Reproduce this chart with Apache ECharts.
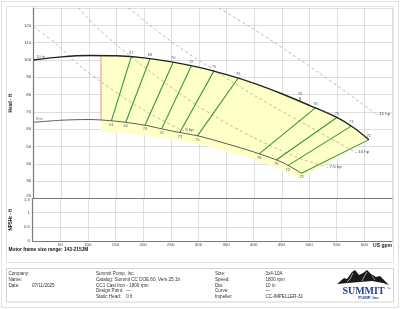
<!DOCTYPE html>
<html><head><meta charset="utf-8">
<script src="https://cdn.jsdelivr.net/npm/echarts@6/dist/echarts.min.js"></script>
<style>html,body{margin:0;padding:0;background:#fff}#c{width:400px;height:309px}</style>
</head><body><div id="c"></div>
<script>
// ---- data ----
const head10 = [[0,100],[50,101.8],[100,102.6],[150,102.4],[200,101.2],[250,98.9],[300,95.7],[350,91.5],[400,86.5],[450,80.5],[500,73.8],[550,66.8],[580,61],[608,54]];
const head8 = [[0,64],[50,65.2],[100,65.6],[150,64.6],[200,62.4],[250,59],[300,56],[350,51.6],[400,46.8],[450,41],[486,34.6]];
const fillTop = [[122,102.6],[150,102.4],[200,101.2],[250,98.9],[300,95.7],[350,91.5],[400,86.5],[450,80.5],[500,73.8],[550,66.8],[580,61],[608,54]];
const fillLow = [[486,31.5],[450,36.5],[400,42.5],[350,47],[300,51.5],[250,54],[200,56.5],[150,58],[122,58.5]];
const minFlow = [[122,65.4],[122,102.6]];
const effQ8  = [141,167,202,232,265,297,409,440,461,486];
const effH8  = [65,64,62.4,60.2,58.1,56.2,45.8,42.2,39,34.6];
const effLbl8 = ['61','65','70','72','73','75','76','76','73','72'];
const effQ10 = [177,211,253,286,327,371,511,550,576,608];
const effH10 = [101.9,100.8,98.7,96.6,93.7,89.6,72.3,66.8,61.8,54];
const effLbl10 = ['67','68','70','72','75','76','76','75','73','72'];
const hp5  = [[0,119.2],[40,109.5],[84,96.5],[122,87.5],[160,79],[200,71],[240,64],[268,59.5]];
const hp75 = [[81,130],[122,116.5],[200,96],[300,73],[400,55],[480,43.5],[530,38.3]];
const hp10 = [[172,130],[250,110.5],[330,93.5],[400,79.5],[500,61.5],[582,47]];
const hp15 = [[336,130],[430,111.5],[520,92],[575,79.5],[620,69]];
const hpNames = ['5 hp','7.5 hp','10 hp','15 hp'];
const bep = [[483,76.1],[483,78.6]];
const bepLabel = '76';
const curveNames = ['10 in','8 in'];
const xTicks = [0,50,100,150,200,250,300,350,400,450,500,550,600,650];
const headTicks = [20,30,40,50,60,70,80,90,100,110,120,130];
const npshTicks = [0,0.5,1,1.5];
const infoLeft = [['Company:',''],['Name:',''],['Date:','07/11/2025']];
const infoMid = ['Summit Pump, Inc.','Catalog: Summit CC DOE.60, Vers 25.1b','CC1 Cast Iron - 1800 rpm','Design Point:  ---','Static Head:    0 ft'];
const infoRight = [['Size:','3x4-10A'],['Speed:','1800 rpm'],['Dia:','10 in'],['Curve:','---'],['Impeller:','CC-IMPELLER-31']];

// ---- chart ----
const FONT = 'Liberation Sans, Arial, sans-serif';
const chart = echarts.init(document.getElementById('c'));
const axisLineStyle = {color:'#7a7a7a', width:1.2};
const split = {show:true, lineStyle:{color:'#d6d6d6', width:0.8}};
const lblBase = {fontFamily:FONT, fontSize:4.6, color:'#333'};

const series = [];
series.push({
  type:'custom', xAxisIndex:0, yAxisIndex:0, z:1, silent:true,
  data:[fillTop[0]],
  renderItem:function(params, api){
    const pts = fillTop.concat(fillLow).map(p=>api.coord(p));
    return {type:'polygon', shape:{points:pts}, style:{fill:'#ffffc8'}};
  }
});
series.push({type:'line', data:minFlow, showSymbol:false, z:3, lineStyle:{color:'#e07a7a', width:0.8}, silent:true});
const hps = [hp5,hp75,hp10,hp15];
hps.forEach((d,i)=>series.push({
  type:'line', data:d, showSymbol:false, z:2, smooth:0.3, silent:true,
  lineStyle:{color:'#b8a496', width:0.8, type:[3,2.5]},
  endLabel:{show:true, formatter:'- '+hpNames[i], distance:1, fontFamily:FONT, fontSize:4.4, color:'#444'}
}));
effQ8.forEach((q,i)=>series.push({
  type:'line', data:[[q,effH8[i]],[effQ10[i],effH10[i]]], showSymbol:false, z:4, silent:true,
  lineStyle:{color:'#2f9a3f', width:1.1}
}));
series.push({type:'line', data:head10, showSymbol:false, smooth:0.3, z:5, silent:true, lineStyle:{color:'#222', width:1.4}});
series.push({type:'line', data:head8, showSymbol:false, smooth:0.3, z:5, silent:true, lineStyle:{color:'#4a4a4a', width:0.9}});
series.push({type:'line', data:bep, showSymbol:false, z:5, silent:true, lineStyle:{color:'#333', width:0.8}});
series.push({type:'scatter', z:6, symbolSize:1, itemStyle:{color:'rgba(0,0,0,0)'}, silent:true,
  data:[{value:bep[1], label:{formatter:bepLabel}}],
  label:Object.assign({show:true, position:'top', distance:1}, lblBase, {fontSize:4})});
series.push({type:'scatter', z:6, symbolSize:1, itemStyle:{color:'rgba(0,0,0,0)'}, silent:true,
  data:effQ8.map((q,i)=>({value:[q,effH8[i]], label:{formatter:effLbl8[i]}})),
  label:Object.assign({show:true, position:'bottom', distance:1.5}, lblBase, {fontSize:4})});
series.push({type:'scatter', z:6, symbolSize:1, itemStyle:{color:'rgba(0,0,0,0)'}, silent:true,
  data:effQ10.map((q,i)=>({value:[q,effH10[i]], label:{formatter:effLbl10[i]}})),
  label:Object.assign({show:true, position:'top', distance:1.5}, lblBase, {fontSize:4})});
series.push({type:'scatter', z:6, symbolSize:1, itemStyle:{color:'rgba(0,0,0,0)'}, silent:true,
  data:[{value:head10[0], label:{formatter:curveNames[0]}},{value:head8[0], label:{formatter:curveNames[1]}}],
  label:Object.assign({show:true, position:'right', distance:2, offset:[0,-3]}, lblBase, {fontSize:4})});

const graphic = [
  {type:'rect', shape:{x:1.5,y:1.5,width:397,height:306}, style:{fill:null, stroke:'#e2e2e2', lineWidth:1}, silent:true},
  {type:'rect', shape:{x:6.5,y:6.5,width:387,height:256}, style:{fill:null, stroke:'#e2e2e2', lineWidth:1}, silent:true},
  {type:'rect', shape:{x:6.5,y:268.5,width:387,height:33.5}, style:{fill:null, stroke:'#d4d4d4', lineWidth:1}, silent:true},
  {type:'text', left:8.5, top:247, style:{text:'Motor frame size range: 143-215JM', font:'bold 4.8px '+FONT, fill:'#111'}}
];
const rowY = [274,279.7,285.4,291,296.7];
infoLeft.forEach((r,i)=>{
  graphic.push({type:'text', x:8.5, y:rowY[i], style:{text:r[0], font:'4.6px '+FONT, fill:'#333', textVerticalAlign:'middle'}});
  if(r[1]) graphic.push({type:'text', x:32, y:rowY[i], style:{text:r[1], font:'4.6px '+FONT, fill:'#333', textVerticalAlign:'middle'}});
});
infoMid.forEach((t,i)=>graphic.push({type:'text', x:96, y:rowY[i], style:{text:t, font:'4.6px '+FONT, fill:'#333', textVerticalAlign:'middle'}}));
infoRight.forEach((r,i)=>{
  graphic.push({type:'text', x:215, y:rowY[i], style:{text:r[0], font:'4.6px '+FONT, fill:'#333', textVerticalAlign:'middle'}});
  graphic.push({type:'text', x:265.5, y:rowY[i], style:{text:r[1], font:'4.6px '+FONT, fill:'#333', textVerticalAlign:'middle'}});
});
// logo
graphic.push({type:'polygon', shape:{points:[[337,284],[344,278],[347,279],[352,272],[355,270],[359,275],[363,273],[367,270],[371,274],[376,277],[380,276],[389,285],[383,283],[372,281],[360,282],[348,283]]}, style:{fill:'#1a1a1a'}, silent:true});
graphic.push({type:'polyline', shape:{points:[[353,273],[350,279],[347,282]]}, style:{stroke:'#fff', lineWidth:0.6, fill:null}, silent:true});
graphic.push({type:'polyline', shape:{points:[[367,272],[364,277],[362,281]]}, style:{stroke:'#fff', lineWidth:0.6, fill:null}, silent:true});
graphic.push({type:'polyline', shape:{points:[[372,276],[375,280]]}, style:{stroke:'#fff', lineWidth:0.5, fill:null}, silent:true});
graphic.push({type:'text', x:363.5, y:291, style:{text:'SUMMIT', font:'bold 10px Liberation Serif, DejaVu Serif, serif', fill:'#23409a', textAlign:'center', textVerticalAlign:'middle'}});
graphic.push({type:'text', x:386.5, y:289, style:{text:'™', font:'4px '+FONT, fill:'#23409a', textVerticalAlign:'middle'}});
graphic.push({type:'text', x:368.5, y:298, style:{text:'PUMP, Inc', font:'bold 4.3px '+FONT, fill:'#23409a', textAlign:'center', textVerticalAlign:'middle'}});

const option = {
  animation:false,
  backgroundColor:'#fff',
  grid:[{left:22, top:8, width:370, height:190.5},{left:22, top:198.5, width:370, height:42.5}],
  xAxis:[
    {gridIndex:0, type:'value', min:xTicks[0], max:xTicks[xTicks.length-1], interval:50,
     axisLine:{show:true, onZero:false, lineStyle:axisLineStyle}, axisTick:{show:false}, axisLabel:{show:false}, splitLine:split},
    {gridIndex:1, type:'value', min:xTicks[0], max:xTicks[xTicks.length-1], interval:50,
     axisLine:{show:true, onZero:false, lineStyle:axisLineStyle}, axisTick:{show:false}, splitLine:split,
     axisLabel:{show:true, margin:2, fontFamily:FONT, fontSize:4.4, color:'#444', showMinLabel:false, alignMaxLabel:'right',
       formatter:function(v){return v===650?'{u|US gpm}':String(v);}, rich:{u:{fontFamily:FONT, fontSize:5, fontWeight:'bold', color:'#222'}}}}
  ],
  yAxis:[
    {gridIndex:0, type:'value', min:headTicks[0], max:headTicks[headTicks.length-1], interval:10,
     name:'Head - ft', nameLocation:'middle', nameGap:11, nameTextStyle:{fontFamily:FONT, fontSize:4.6, fontWeight:'bold', color:'#222'},
     axisLine:{show:true, onZero:false, lineStyle:axisLineStyle}, axisTick:{show:false}, splitLine:split,
     axisLabel:{show:true, margin:2.5, fontFamily:FONT, fontSize:4.4, color:'#444', showMaxLabel:false,
       formatter:function(v){return v===20?'{lo|20}':String(v);}, rich:{lo:{fontFamily:FONT, fontSize:4.4, color:'#444', padding:[0,0,5,0]}}}},
    {gridIndex:1, type:'value', min:npshTicks[0], max:npshTicks[npshTicks.length-1], interval:0.5,
     name:'NPSHr - ft', nameLocation:'middle', nameGap:11, nameTextStyle:{fontFamily:FONT, fontSize:4.6, fontWeight:'bold', color:'#222'},
     axisLine:{show:true, onZero:false, lineStyle:axisLineStyle}, axisTick:{show:false}, splitLine:split,
     axisLabel:{show:true, margin:2.5, fontFamily:FONT, fontSize:4.4, color:'#444',
       formatter:function(v){return v===1.5?'{hi|1.5}':String(v);}, rich:{hi:{fontFamily:FONT, fontSize:4.4, color:'#444', padding:[3,0,0,0]}}}}
  ],
  series:series,
  graphic:graphic
};
chart.setOption(option);
</script></body></html>
